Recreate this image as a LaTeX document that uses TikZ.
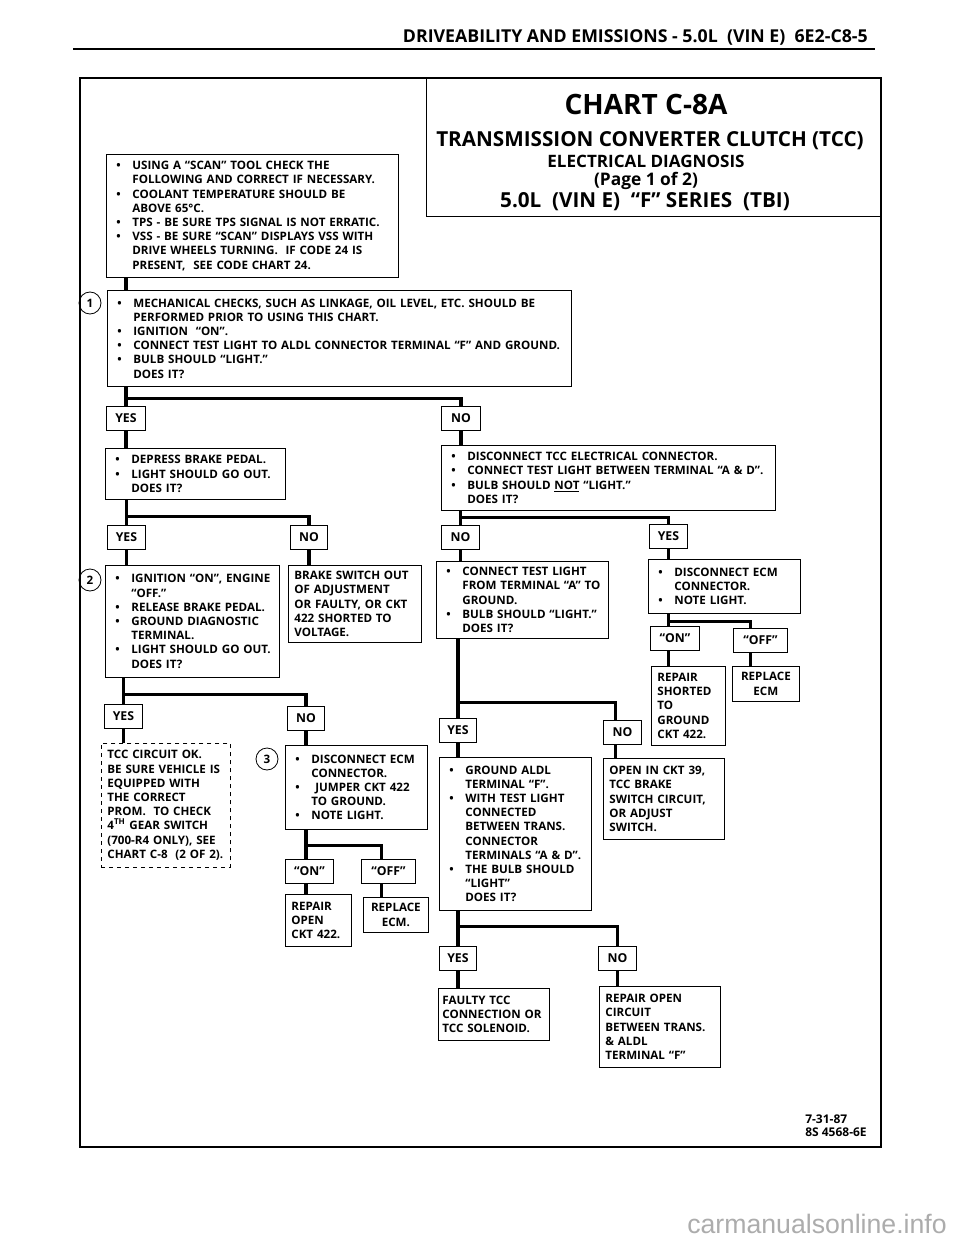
\documentclass[tikz,border=0pt]{standalone}
\usepackage{fontspec}
\setmainfont{Open Sans}
\newfontfamily\markfont{Liberation Sans}
\usetikzlibrary{positioning}
\newcommand\bodyfont{\fontsize{8.7}{10.65}\selectfont\bfseries}
\newcommand\lblfont{\fontsize{9.2}{11}\selectfont\bfseries}
\newcommand\bl{\makebox[15pt][l]{\hspace{3pt}\textbullet}}
\newcommand\cl{\hspace*{15pt}}
\tikzset{
  tbox/.style={draw, line width=0.6pt, anchor=north west, align=left, inner xsep=4.5pt, inner ysep=2pt, font=\bodyfont},
  cbox/.style={tbox, align=center},
  lbl/.style={draw, line width=0.6pt, anchor=north west, inner sep=0pt, minimum height=18pt, font=\lblfont},
  link/.style={line width=2.5pt},
  stepnum/.style={circle, draw, line width=0.6pt, minimum size=16.5pt, inner sep=0pt, font=\bodyfont},
}

\begin{document}
\begin{tikzpicture}[x=0.75pt, y=-0.75pt]
    \useasboundingbox[fill=white] (0,0) rectangle (960,1237);

    % Page header
    \node[anchor=base east, inner sep=0pt, font=\fontsize{13.3}{15}\selectfont\bfseries] (head) at (868,43) {DRIVEABILITY AND EMISSIONS - 5.0L\ \ (VIN E)\ \ 6E2-C8-5};
    \draw[line width=1.2pt] (73,49) -- (875,49);

    % Chart frame and title block
    \draw[line width=1.6pt] (80,78) rectangle (881,1147);
    \node[draw, line width=0.8pt, anchor=north west, minimum width=341.25pt, minimum height=103.5pt] (title) at (426,78) {};
    \node[font=\fontsize{21}{24}\selectfont\bfseries] (title1) at (646,105) {CHART C-8A};
    \node[font=\fontsize{15.5}{17}\selectfont\bfseries] (title2) at (650,141) {TRANSMISSION CONVERTER CLUTCH (TCC)};
    \node[font=\fontsize{12.8}{14}\selectfont\bfseries] (title3) at (646,161) {ELECTRICAL DIAGNOSIS};
    \node[font=\fontsize{13}{15}\selectfont\bfseries] (title4) at (646,181) {(Page 1 of 2)};
    \node[font=\fontsize{15.5}{17}\selectfont\bfseries] (title5) at (645,202) {5.0L\ \ (VIN E)\ \ “F” SERIES\ \ (TBI)};

    % Checks before step 1
    \node[tbox, text width=210pt, minimum height=92.25pt] (boxa) at (106,154) {\bl USING A “SCAN” TOOL CHECK THE\\ \cl FOLLOWING AND CORRECT IF NECESSARY.\\ \bl COOLANT TEMPERATURE SHOULD BE\\ \cl ABOVE 65°C.\\ \bl TPS - BE SURE TPS SIGNAL IS NOT ERRATIC.\\ \bl VSS - BE SURE “SCAN” DISPLAYS VSS WITH\\ \cl DRIVE WHEELS TURNING.\ \ IF CODE 24 IS\\ \cl PRESENT,\ \ SEE CODE CHART 24.};

    % Step 1
    \node[tbox, text width=339pt, minimum height=72pt] (boxb) at (107,290) {\bl MECHANICAL CHECKS, SUCH AS LINKAGE, OIL LEVEL, ETC. SHOULD BE\\ \cl PERFORMED PRIOR TO USING THIS CHART.\\ \bl IGNITION\ \ “ON”.\\ \bl CONNECT TEST LIGHT TO ALDL CONNECTOR TERMINAL “F” AND GROUND.\\ \bl BULB SHOULD “LIGHT.”\\ \cl DOES IT?};
    \node[stepnum] (c1) at (90,303) {1};
    \node[lbl, minimum width=29.25pt] (yes1) at (106,406) {YES};
    \node[lbl, minimum width=29.25pt] (no1) at (441,406) {NO};

    \node[tbox, text width=126pt, minimum height=38.25pt] (boxc) at (105,448) {\bl DEPRESS BRAKE PEDAL.\\ \bl LIGHT SHOULD GO OUT.\\ \cl DOES IT?};
    \node[tbox, text width=241.5pt, minimum height=48.75pt] (boxd) at (441,445) {\bl DISCONNECT TCC ELECTRICAL CONNECTOR.\\ \bl CONNECT TEST LIGHT BETWEEN TERMINAL “A \& D”.\\ \bl BULB SHOULD \underline{NOT} “LIGHT.”\\ \cl DOES IT?};
    \node[lbl, minimum width=28.5pt] (yes2) at (107,525) {YES};
    \node[lbl, minimum width=27.75pt] (no2) at (290,525) {NO};
    \node[lbl, minimum width=28.5pt] (no3) at (441,525) {NO};
    \node[lbl, minimum width=28.5pt] (yes3) at (649,524) {YES};

    % Step 2 and neighbours
    \node[tbox, text width=121.5pt, minimum height=84pt] (boxe) at (105,565) {\bl IGNITION “ON”, ENGINE\\ \cl “OFF.”\\ \bl RELEASE BRAKE PEDAL.\\ \bl GROUND DIAGNOSTIC\\ \cl TERMINAL.\\ \bl LIGHT SHOULD GO OUT.\\ \cl DOES IT?};
    \node[stepnum] (c2) at (90,580) {2};
    \node[tbox, text width=90.75pt, minimum height=57.75pt] (boxf) at (288,565) {BRAKE SWITCH OUT\\ OF ADJUSTMENT\\ OR FAULTY, OR CKT\\ 422 SHORTED TO\\ VOLTAGE.};
    \node[tbox, text width=120pt, minimum height=57.75pt] (boxg) at (436,561) {\bl CONNECT TEST LIGHT\\ \cl FROM TERMINAL “A” TO\\ \cl GROUND.\\ \bl BULB SHOULD “LIGHT.”\\ \cl DOES IT?};
    \node[tbox, text width=105pt, minimum height=40.5pt] (boxh) at (648,559) {\bl DISCONNECT ECM\\ \cl CONNECTOR.\\ \bl NOTE LIGHT.};
    \node[lbl, minimum width=36.75pt] (on1) at (650,626) {“ON”};
    \node[lbl, minimum width=40.5pt] (off1) at (733,628) {“OFF”};
    \node[tbox, text width=46.5pt, minimum height=59.25pt] (boxi) at (651,666) {REPAIR\\ SHORTED\\ TO\\ GROUND\\ CKT 422.};
    \node[cbox, text width=41.25pt, minimum height=26.25pt] (boxj) at (732,666) {REPLACE\\ ECM};

    \node[lbl, minimum width=28.5pt] (yes4) at (104,704) {YES};
    \node[lbl, minimum width=27.75pt] (no4) at (287,706) {NO};
    \node[lbl, minimum width=27.75pt] (yes5) at (439,718) {YES};
    \node[lbl, minimum width=28.5pt] (no5) at (603,720) {NO};

    % Lower half
    \node[tbox, dashed, text width=87.75pt, minimum height=93pt] (boxk) at (101,743) {TCC CIRCUIT OK.\\ BE SURE VEHICLE IS\\ EQUIPPED WITH\\ THE CORRECT\\ PROM.\ \ TO CHECK\\ 4\textsuperscript{TH} GEAR SWITCH\\ (700-R4 ONLY), SEE\\ CHART C-8\ \ (2 OF 2).};
    \node[tbox, text width=97.5pt, minimum height=63pt] (boxl) at (285,745) {\bl DISCONNECT ECM\\ \cl CONNECTOR.\\ \bl \ JUMPER CKT 422\\ \cl TO GROUND.\\ \bl NOTE LIGHT.};
    \node[stepnum] (c3) at (267,759) {3};
    \node[lbl, minimum width=36pt] (on2) at (285,859) {“ON”};
    \node[lbl, minimum width=40.5pt] (off2) at (361,859) {“OFF”};
    \node[tbox, text width=40.5pt, minimum height=39pt] (boxm) at (285,894) {REPAIR\\ OPEN\\ CKT 422.};
    \node[cbox, text width=39.75pt, minimum height=26.25pt] (boxn) at (363,897) {REPLACE\\ ECM.};

    \node[tbox, text width=105pt, minimum height=114.75pt] (boxo) at (439,757) {\bl GROUND ALDL\\ \cl TERMINAL “F”.\\ \bl WITH TEST LIGHT\\ \cl CONNECTED\\ \cl BETWEEN TRANS.\\ \cl CONNECTOR\\ \cl TERMINALS “A \& D”.\\ \bl THE BULB SHOULD\\ \cl “LIGHT”\\ \cl DOES IT?};
    \node[tbox, text width=81.75pt, minimum height=60.75pt] (boxp) at (603,758) {OPEN IN CKT 39,\\ TCC BRAKE\\ SWITCH CIRCUIT,\\ OR ADJUST\\ SWITCH.};
    \node[lbl, minimum width=27.75pt] (yes6) at (439,946) {YES};
    \node[lbl, minimum width=28.5pt] (no6) at (598,946) {NO};
    \node[tbox, inner xsep=3pt, text width=77pt, minimum height=39pt] (boxq) at (438,988) {FAULTY TCC\\ CONNECTION OR\\ TCC SOLENOID.};
    \node[tbox, text width=81.75pt, minimum height=60.75pt] (boxr) at (599,986) {REPAIR OPEN\\ CIRCUIT\\ BETWEEN TRANS.\\ \& ALDL\\ TERMINAL “F”};

    % Connector drop points that sit off the label centres
    \coordinate (offa) at ([xshift=-7.5pt]off1.south);
    \coordinate (offb) at ([xshift=-5pt]off2.south);
    \coordinate (nob) at ([xshift=-5pt]no5.south);

    % Connectors
    \draw[link] (boxa.south -| yes1.north) -- (boxb.north -| yes1.north);
    \draw[link] (boxb.south -| yes1.north) -- (yes1.north);
    \draw[link] (boxb.south -| yes1.north) ++(0,12) -| (no1.north);
    \draw[link] (yes1.south) -- (boxc.north -| yes1.south);
    \draw[link] (no1.south) -- (boxd.north -| no1.south);

    \draw[link] (boxc.south -| yes2.north) -- (yes2.north);
    \draw[link] (boxc.south -| yes2.north) ++(0,17) -| (no2.north);
    \draw[link] (yes2.south) -- (boxe.north -| yes2.south);
    \draw[link] (no2.south) -- (boxf.north -| no2.south);

    \draw[link] (boxd.south -| no3.north) -- (no3.north);
    \draw[link] (boxd.south -| no3.north) ++(0,7) -| (yes3.north);
    \draw[link] (no3.south) -- (boxg.north -| no3.south);
    \draw[link] (yes3.south) -- (boxh.north -| yes3.south);

    \draw[link] (boxh.south -| yes3.south) -- (on1.north -| yes3.south);
    \draw[link] (boxh.south -| yes3.south) ++(0,8) -| (off1.north -| offa);
    \draw[link] (on1.south -| yes3.south) -- (boxi.north -| yes3.south);
    \draw[link] (offa) -- (boxj.north -| offa);

    \draw[link] (boxe.south -| yes4.north) -- (yes4.north);
    \draw[link] (boxe.south -| yes4.north) ++(0,17) -| (no4.north);
    \draw[link] (yes4.south) -- (boxk.north -| yes4.south);
    \draw[link] (no4.south) -- (boxl.north -| no4.south);

    \draw[link] (boxl.south -| no4.south) -- (on2.north -| no4.south);
    \draw[link] (boxl.south -| no4.south) ++(0,16) -| (off2.north -| offb);
    \draw[link] (on2.south -| no4.south) -- (boxm.north -| no4.south);
    \draw[link] (offb) -- (boxn.north -| offb);

    \draw[link] (boxg.south -| yes5.north) -- (yes5.north);
    \draw[link] (boxg.south -| yes5.north) ++(0,64) -| (no5.north -| nob);
    \draw[link] (yes5.south) -- (boxo.north -| yes5.south);
    \draw[link] (nob) -- (boxp.north -| nob);

    \draw[link] (boxo.south -| yes6.north) -- (yes6.north);
    \draw[link] (boxo.south -| yes6.north) ++(0,16) -| (no6.north);
    \draw[link] (yes6.south) -- (boxq.north -| yes6.south);
    \draw[link] (no6.south) -- (boxr.north -| no6.south);

    % Footer
    \node[anchor=north west, align=left, inner sep=0pt, font=\fontsize{9}{9.5}\selectfont\bfseries] (foot) at (805,1115) {7-31-87\\ 8S 4568-6E};
    \node[anchor=base, inner sep=0pt, font=\markfont\fontsize{20}{22}\selectfont, text=gray!65] (mark) at (817,1233) {carmanualsonline.info};
\end{tikzpicture}
\end{document}
